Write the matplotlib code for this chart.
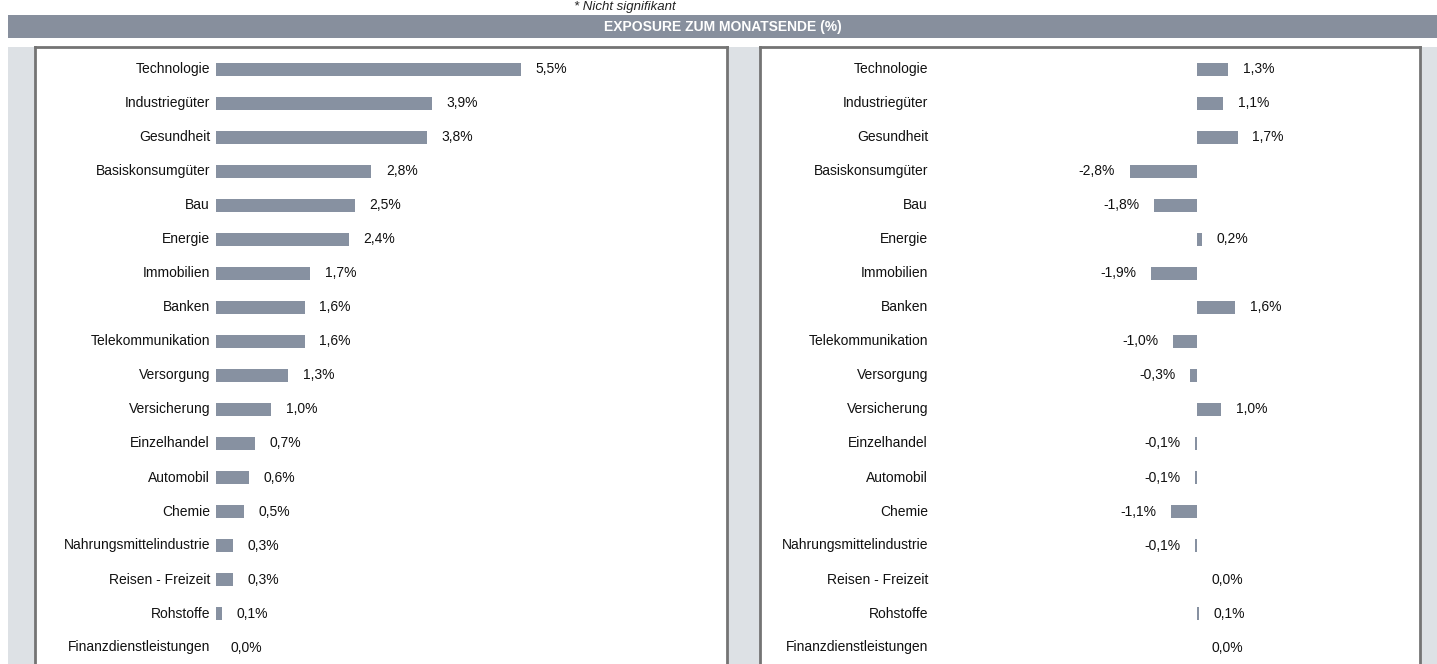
import matplotlib.pyplot as plt

plt.rcParams['font.family'] = ['Liberation Sans', 'DejaVu Sans']

# Data
sectors = ['Technologie', 'Industriegüter', 'Gesundheit', 'Basiskonsumgüter', 'Bau',
           'Energie', 'Immobilien', 'Banken', 'Telekommunikation', 'Versorgung',
           'Versicherung', 'Einzelhandel', 'Automobil', 'Chemie',
           'Nahrungsmittelindustrie', 'Reisen - Freizeit', 'Rohstoffe',
           'Finanzdienstleistungen']
exposure_left = [5.5, 3.9, 3.8, 2.8, 2.5, 2.4, 1.7, 1.6, 1.6, 1.3, 1.0, 0.7, 0.6, 0.5,
                 0.3, 0.3, 0.1, 0.0]
exposure_right = [1.3, 1.1, 1.7, -2.8, -1.8, 0.2, -1.9, 1.6, -1.0, -0.3, 1.0, -0.1, -0.1,
                  -1.1, -0.1, 0.0, 0.1, 0.0]

title = 'EXPOSURE ZUM MONATSENDE (%)'
note = '* Nicht signifikant'

W, H = 1437, 664
bar_col = '#8791a1'
head_col = '#878f9d'
bg_col = '#dde1e5'
frame_col = '#747474'

fig = plt.figure(figsize=(W / 100, H / 100), dpi=100)


def px_rect(x0, y0, x1, y1):
    # pixel box (top-left origin) -> figure fraction
    return [x0 / W, 1 - y1 / H, (x1 - x0) / W, (y1 - y0) / H]


# grey background and header strip
bg = fig.add_axes(px_rect(8, 47, W, H))
bg.set_facecolor(bg_col)
bg.set_xticks([]); bg.set_yticks([])
for s in bg.spines.values():
    s.set_visible(False)

hdr = fig.add_axes(px_rect(8, 15, W, 38))
hdr.set_facecolor(head_col)
hdr.set_xticks([]); hdr.set_yticks([])
for s in hdr.spines.values():
    s.set_visible(False)
hdr.text(0.5, 0.5, title, transform=hdr.transAxes, ha='center', va='center',
         color='white', fontsize=10, fontweight='bold')

fig.text(625 / W, 1 - 7 / H, note, ha='center', va='center', fontsize=9.5,
         style='italic', color='#222222')


def panel(x0, x1, zero_px, px_per_pct, label_px, values):
    top, bottom = 47, 690
    ax = fig.add_axes(px_rect(x0, top, x1, bottom))
    ax.set_facecolor('white')
    ax.set_xlim(-(zero_px - x0) / px_per_pct, (x1 - zero_px) / px_per_pct)
    row0, step = 69.5, 34
    ax.set_ylim((bottom - row0) / step, -(row0 - top) / step)
    ax.set_xticks([]); ax.set_yticks([])
    for s in ax.spines.values():
        s.set_color(frame_col)
        s.set_linewidth(2)
    ypos = list(range(len(sectors)))
    ax.barh(ypos, values, height=0.38, color=bar_col)
    lab_x = (label_px - zero_px) / px_per_pct
    for y, name, v in zip(ypos, sectors, values):
        ax.text(lab_x, y, name, ha='right', va='center', fontsize=10, color='#111111')
        txt = f'{v:.1f}%'.replace('.', ',')
        if v < 0:
            ax.annotate(txt, (v, y), xytext=(-10.5, 0), textcoords='offset points',
                        ha='right', va='center', fontsize=10, color='#111111')
        else:
            ax.annotate(txt, (v, y), xytext=(10.5, 0), textcoords='offset points',
                        ha='left', va='center', fontsize=10, color='#111111')
    return ax


panel(35, 727, 216, 55.45, 210, exposure_left)
panel(760, 1420, 1197, 24.0, 928, exposure_right)

fig.savefig('out.png', dpi=100)
